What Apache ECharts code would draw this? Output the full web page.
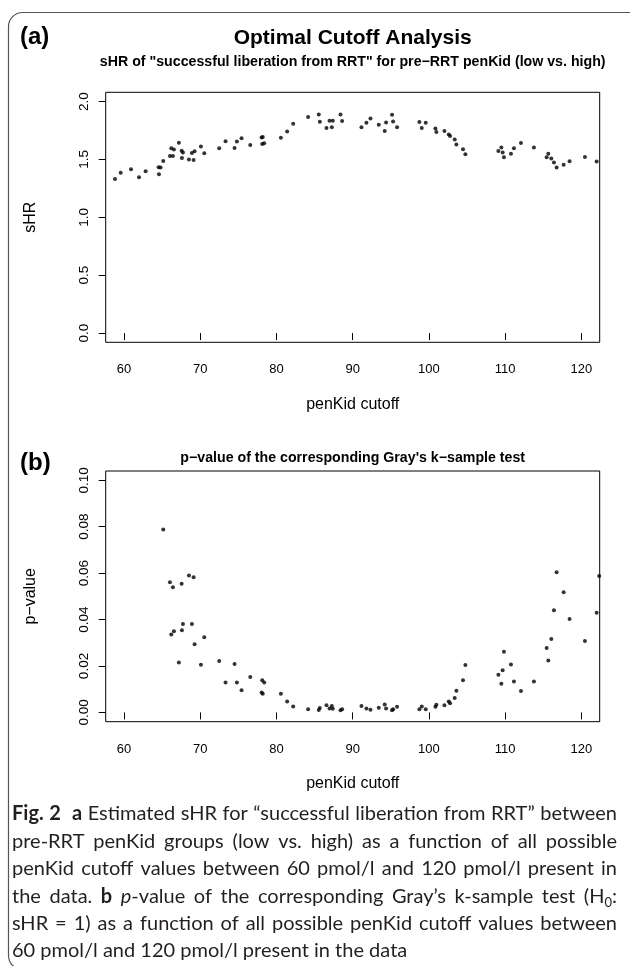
<!DOCTYPE html>
<html><head><meta charset="utf-8">
<script src="https://cdn.jsdelivr.net/npm/echarts@6/dist/echarts.min.js"></script>
<style>html,body{margin:0;padding:0;background:#fff}#c{width:630px;height:966px}</style>
</head><body><div id="c"></div>
<script>
// penKid cutoff values (shared by both panels)
const cutoffs = [58.82,59.57,60.92,61.97,62.84,64.54,64.80,64.59,65.15,66.03,66.42,66.20,66.55,67.20,67.56,67.73,67.60,68.52,69.13,68.91,69.26,70.09,70.53,72.49,73.32,74.50,74.81,75.42,76.56,78.05,78.20,78.13,78.39,80.58,81.40,82.19,84.15,85.55,85.69,86.56,86.96,87.39,87.26,88.40,88.61,91.15,91.80,92.33,93.42,94.20,94.38,95.16,95.30,95.82,98.75,99.58,99.06,100.85,100.98,102.03,102.60,102.77,103.38,103.60,104.47,104.78,109.11,109.50,109.67,109.84,110.76,111.15,112.07,113.77,115.44,115.66,116.05,116.40,116.75,117.67,118.45,120.46,122.00,122.33];
// panel (a): estimated sHR
const sHR = [1.330,1.384,1.415,1.347,1.398,1.433,1.430,1.372,1.487,1.530,1.530,1.596,1.585,1.645,1.576,1.559,1.513,1.499,1.496,1.556,1.570,1.611,1.553,1.596,1.656,1.599,1.654,1.682,1.625,1.690,1.694,1.634,1.639,1.688,1.742,1.808,1.866,1.888,1.825,1.771,1.834,1.834,1.777,1.888,1.831,1.777,1.817,1.854,1.800,1.745,1.819,1.886,1.828,1.777,1.823,1.817,1.771,1.768,1.737,1.745,1.716,1.702,1.673,1.630,1.587,1.544,1.573,1.602,1.559,1.518,1.550,1.596,1.642,1.602,1.518,1.548,1.507,1.473,1.430,1.453,1.484,1.522,1.482,null];
// panel (b): p-value of Gray's test (null = above the plotted range)
const pValue = [null,null,null,null,null,null,null,null,0.0788,0.0561,0.0539,0.0336,0.0350,0.0215,0.0554,0.0381,0.0354,0.0590,0.0582,0.0381,0.0294,0.0205,0.0324,0.0221,0.0129,0.0209,0.0129,0.0095,0.0153,0.0086,0.0080,0.0139,0.0129,0.0080,0.0047,0.0026,0.0014,0.0010,0.0019,0.0031,0.0017,0.0016,0.0028,0.0009,0.0014,0.0028,0.0017,0.0011,0.0020,0.0034,0.0017,0.0009,0.0014,0.0024,0.0014,0.0014,0.0026,0.0024,0.0033,0.0031,0.0047,0.0040,0.0062,0.0093,0.0139,0.0204,0.0162,0.0123,0.0182,0.0261,0.0206,0.0133,0.0092,0.0133,0.0277,0.0224,0.0316,0.0440,0.0604,0.0518,0.0402,0.0308,0.0429,0.0588];
const xTicks = [60,70,80,90,100,110,120];
const sHRTicks = [0,0.5,1,1.5,2];
const pTicks = [0,0.02,0.04,0.06,0.08,0.10];
// caption lines (words; {b|..} bold, {i|..} italic, {s|..} subscript)
const capLines = [
  '{b|Fig.} {b|2}  {b|a} Estimated sHR for “successful liberation from RRT” between',
  'pre-RRT penKid groups (low vs. high) as a function of all possible',
  'penKid cutoff values between 60 pmol/l and 120 pmol/l present in',
  'the data. {b|b} {i|p}-value of the corresponding Gray’s k-sample test (H{s|0}:',
  'sHR = 1) as a function of all possible penKid cutoff values between',
  '60 pmol/l and 120 pmol/l present in the data'
];

const FONT = 'Liberation Sans, Arial, sans-serif';
const CAP = 'Lato';
const CAPSIZE = 20;
const pairs = (ys) => cutoffs.map((x,i)=>[x, ys[i]]).filter(d=>d[1]!==null);

function xAxis(g){
  return {gridIndex:g, type:'value', min:57.6, max:122.4,
    axisLine:{show:false}, splitLine:{show:false},
    axisTick:{show:true, length:7, customValues:xTicks, lineStyle:{color:'#000', width:1}},
    axisLabel:{customValues:xTicks, margin:21, fontSize:13, color:'#000', fontFamily:FONT},
    name:'penKid cutoff', nameLocation:'middle', nameGap:54,
    nameTextStyle:{fontSize:16, color:'#000', fontFamily:FONT}};
}
function yAxis(g, min, max, ticks, dec, name){
  return {gridIndex:g, type:'value', min:min, max:max,
    axisLine:{show:false}, splitLine:{show:false},
    axisTick:{show:true, length:7, customValues:ticks, lineStyle:{color:'#000', width:1}},
    axisLabel:{customValues:ticks, rotate:90, margin:14, fontSize:13.5, color:'#000', fontFamily:FONT,
      formatter:(v)=>v.toFixed(dec)},
    name:name, nameLocation:'middle', nameGap:67,
    nameTextStyle:{fontSize:16, color:'#000', fontFamily:FONT}};
}
function txt(text, x, y, size, bold, align){
  return {type:'text', x:x, y:y, style:{text:text, fontSize:size, fontWeight:bold?'bold':'normal',
    fontFamily:FONT, fill:'#000', align:align||'center', verticalAlign:'middle'}};
}

// caption layout (justified like the journal caption)
const capColor = '#231f20';
const capRich = {b:{fontWeight:'bold', fontSize:CAPSIZE, fontFamily:CAP, fill:capColor},
  i:{fontStyle:'italic', fontSize:CAPSIZE, fontFamily:CAP, fill:capColor},
  s:{fontSize:13, fontFamily:CAP, fill:capColor, verticalAlign:'top', lineHeight:13, padding:[10,0,0,0]}};
const mctx = document.createElement('canvas').getContext('2d');
function fontOf(s){
  const size = s==='s'?13:CAPSIZE;
  return (s==='i'?'italic ':'normal ') + (s==='b'?'bold ':'normal ') + size + 'px ' + CAP;
}
function wordWidth(w){
  const re = /\{(\w)\|([^}]*)\}|([^{]+)/g; let m, tot = 0;
  while((m = re.exec(w))){
    const s = m[1] || 'n', t = m[2] !== undefined ? m[2] : m[3];
    mctx.font = fontOf(s); tot += mctx.measureText(t).width;
  }
  return tot;
}
const capLeft = 12, capRight = 617;
const capGraphics = [];
capLines.forEach((line, li) => {
  const parts = line.split(' ');
  const words = [], weights = [];
  parts.forEach(p => { if (p === '') { weights[weights.length-1] += 1; } else { words.push(p); weights.push(1); } });
  weights[weights.length-1] = 0;
  const widths = words.map(wordWidth);
  const totW = widths.reduce((a,b)=>a+b,0);
  const totWt = weights.reduce((a,b)=>a+b,0);
  mctx.font = fontOf('n');
  const natural = mctx.measureText(' ').width;
  const justify = li < capLines.length - 1;
  const gap = justify ? (capRight - capLeft - totW) / totWt : natural;
  let x = capLeft;
  const y = 814 + li * 27.4;
  words.forEach((w, wi) => {
    capGraphics.push({type:'text', x:x, y:y, style:{text:w, rich:capRich, fontSize:CAPSIZE, fontFamily:CAP,
      fill:capColor, align:'left', verticalAlign:'middle'}});
    x += widths[wi] + gap * weights[wi];
  });
});

const chart = echarts.init(document.getElementById('c'), null, {renderer:'canvas'});
chart.setOption({
  animation:false,
  backgroundColor:'#fff',
  grid:[
    {left:105.7, top:92.3, width:494, height:250, show:true, borderColor:'#000', borderWidth:1, backgroundColor:'transparent'},
    {left:105.7, top:471, width:494, height:250.7, show:true, borderColor:'#000', borderWidth:1, backgroundColor:'transparent'}
  ],
  xAxis:[xAxis(0), xAxis(1)],
  yAxis:[yAxis(0,-0.08,2.08,sHRTicks,1,'sHR'), yAxis(1,-0.004,0.104,pTicks,2,'p−value')],
  series:[
    {type:'scatter', xAxisIndex:0, yAxisIndex:0, data:pairs(sHR), symbol:'circle', symbolSize:4, itemStyle:{color:'#000'}, clip:true},
    {type:'scatter', xAxisIndex:1, yAxisIndex:1, data:pairs(pValue), symbol:'circle', symbolSize:4, itemStyle:{color:'#000'}, clip:true}
  ],
  graphic:[
    {type:'rect', shape:{x:8.5, y:12.5, width:640, height:957, r:14}, style:{fill:'none', stroke:'#555', lineWidth:1.2}},
    txt('(a)', 20, 37, 24, true, 'left'),
    txt('Optimal Cutoff Analysis', 352.7, 38, 21, true),
    txt('sHR of "successful liberation from RRT" for pre−RRT penKid (low vs. high)', 352.7, 62, 14.2, true),
    txt('(b)', 20, 463, 24, true, 'left'),
    txt("p−value of the corresponding Gray's k−sample test", 352.7, 458, 14.2, true)
  ].concat(capGraphics)
});
</script></body></html>
